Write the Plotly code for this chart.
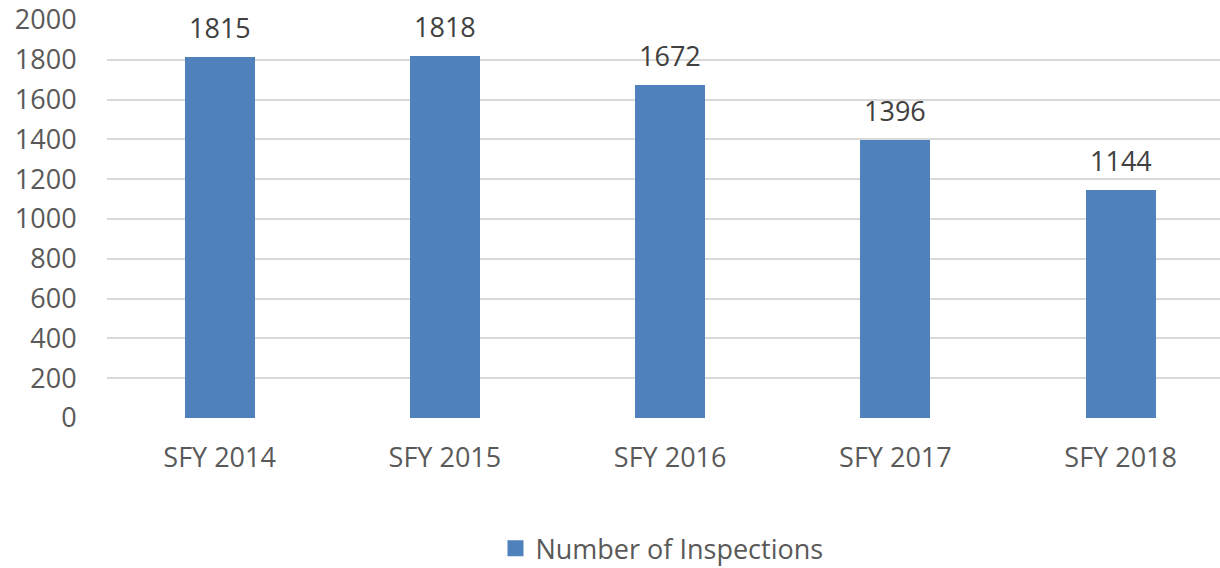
import plotly.graph_objects as go

categories = ["SFY 2014", "SFY 2015", "SFY 2016", "SFY 2017", "SFY 2018"]
values = [1815, 1818, 1672, 1396, 1144]
series_name = "Number of Inspections"
y_ticks = [0, 200, 400, 600, 800, 1000, 1200, 1400, 1600, 1800, 2000]

FONT = "Open Sans"
BAR = "#4F81BD"
FS = 27

fig = go.Figure()
fig.add_trace(go.Bar(
    x=list(range(len(categories))), y=values, name=series_name,
    marker=dict(color=BAR, line=dict(width=0)),
    width=70 / 225.25,
    showlegend=False,
))
# legend entry with a larger square marker
fig.add_trace(go.Scatter(
    x=[None], y=[None], mode="markers", name=series_name,
    marker=dict(symbol="square", size=18, color=BAR),
    showlegend=True,
))
for i, v in enumerate(values):
    fig.add_annotation(x=i, y=v, text=str(v), showarrow=False, yanchor="bottom",
                       yshift=9, font=dict(family=FONT, size=FS, color="#404040"))

fig.update_layout(
    width=1220, height=568,
    margin=dict(l=107, r=0, t=20, b=150, autoexpand=False),
    paper_bgcolor="white", plot_bgcolor="white",
    font=dict(family=FONT, size=FS, color="#595959"),
    bargap=0,
    xaxis=dict(range=[-0.5, 4.441], tickvals=list(range(len(categories))), ticktext=categories,
               showgrid=False, zeroline=False, showline=False, ticks="outside",
               ticklen=16, tickcolor="rgba(0,0,0,0)", automargin=False,
               tickfont=dict(size=FS, color="#595959")),
    yaxis=dict(range=[0, 2000], tickvals=y_ticks, showgrid=True, gridcolor="#D9D9D9",
               gridwidth=1.5, zeroline=False, showline=False, ticks="outside",
               ticklen=24, tickcolor="rgba(0,0,0,0)", automargin=False,
               ticklabeloverflow="allow",
               tickfont=dict(size=FS, color="#595959")),
    legend=dict(orientation="h", xref="container", yref="container",
                x=0.5426, xanchor="center", y=0.034, yanchor="middle",
                font=dict(size=FS, color="#595959"), itemwidth=30),
    showlegend=True,
)

fig.write_html("out.html", config={"displayModeBar": False},
               post_script="document.body.style.margin='0';document.body.style.overflow='hidden';")
